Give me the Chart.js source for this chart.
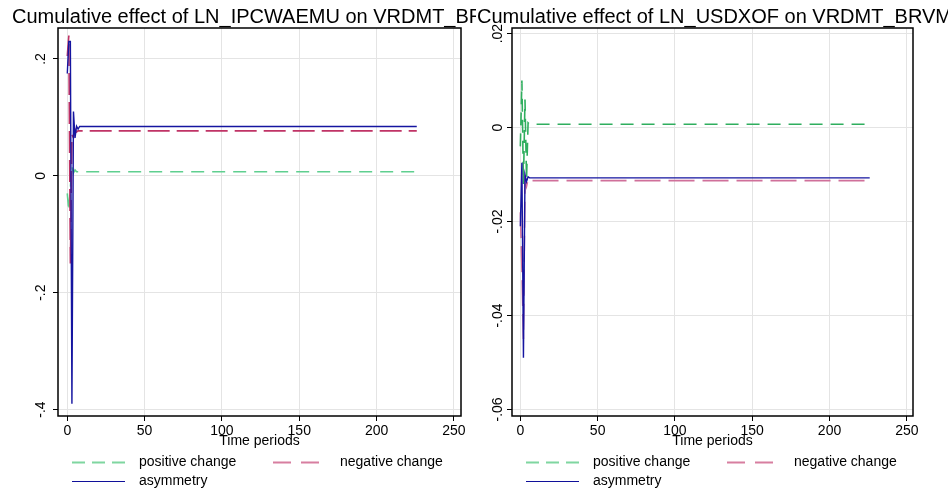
<!DOCTYPE html>
<html><head><meta charset="utf-8">
<script src="https://cdn.jsdelivr.net/npm/chart.js@4.4.0/dist/chart.umd.min.js"></script>
<style>
html,body{margin:0;padding:0;background:#fff;}
#wrap{position:relative;width:948px;height:491px;overflow:hidden;background:#fff;}
#c1wrap{position:absolute;left:0;top:0;width:476px;height:491px;}
#c2wrap{position:absolute;left:476px;top:0;width:472px;height:491px;background:#fff;}
canvas{display:block;}
</style></head><body>
<div id="wrap"><div id="c1wrap"><canvas id="c1" width="476" height="491"></canvas></div><div id="c2wrap"><canvas id="c2" width="472" height="491"></canvas></div></div>
<script>
// ---- data ----
const periods = [0, 1, 2, 3, 4, 5, 6, 7, 8, 226];
const xTicks = [0, 50, 100, 150, 200, 250];
const seriesLabels = ['positive change', 'negative change', 'asymmetry'];

// Panel 1: LN_IPCWAEMU
const pos1  = [-0.030, -0.060, -0.020, 0.016, 0.005, 0.010, 0.007, 0.007, 0.007, 0.007];
const neg1  = [0.205, 0.240, -0.150, 0.070, 0.065, 0.080, 0.075, 0.077, 0.077, 0.077];
const asym1 = [0.175, 0.230, 0.230, -0.390, 0.110, 0.065, 0.085, 0.080, 0.0845, 0.0845];
const yTicks1 = [0.2, 0, -0.2, -0.4];
const yLabels1 = ['.2', '0', '-.2', '-.4'];

// Panel 2: LN_USDXOF
const pos2  = [-0.004, 0.010, -0.012, 0.006, -0.011, 0.001, 0.0007, 0.0007, 0.0007, 0.0007];
const neg2  = [-0.018, -0.030, -0.045, -0.011, -0.0125, -0.011, -0.0113, -0.0113, -0.0113, -0.0113];
const asym2 = [-0.021, -0.0075, -0.049, -0.010, -0.0115, -0.0105, -0.0107, -0.0107, -0.0107, -0.0107];
const yTicks2 = [0.02, 0, -0.02, -0.04, -0.06];
const yLabels2 = ['.02', '0', '-.02', '-.04', '-.06'];

const FONT = '"Liberation Sans", Arial, Helvetica, sans-serif';

function pts(vals){ return periods.map((p,i)=>({x:p, y:vals[i]})); }

function makeChart(id, cfg){
  const plugin = {
    id:'stataDeco',
    afterDraw(chart){
      const ctx = chart.ctx, ca = chart.chartArea, ys = chart.scales.y;
      ctx.save();
      ctx.strokeStyle = '#000'; ctx.lineWidth = 1.5; ctx.setLineDash([]);
      ctx.strokeRect(ca.left, ca.top, ca.right-ca.left, ca.bottom-ca.top);
      ctx.fillStyle = '#000';
      ctx.font = '14px ' + FONT;
      ctx.textAlign = 'center'; ctx.textBaseline = 'middle';
      cfg.yTicks.forEach((v,i)=>{
        const y = ys.getPixelForValue(v);
        ctx.save(); ctx.translate(ca.left - cfg.yLabelOffset, y); ctx.rotate(-Math.PI/2);
        ctx.fillText(cfg.yLabels[i], 0, 0); ctx.restore();
      });
      // title
      ctx.font = '20px ' + FONT; ctx.textAlign = 'left'; ctx.textBaseline = 'alphabetic';
      ctx.fillText(cfg.title, cfg.titleX, 23);
      // x axis title
      ctx.font = '14px ' + FONT; ctx.textAlign = 'center';
      ctx.fillText('Time periods', (ca.left+ca.right)/2, 445);
      // legend
      const items = [
        {ds:2, x:14, y:462.5, label:seriesLabels[0]},
        {ds:1, x:215, y:462.5, label:seriesLabels[1]},
        {ds:0, x:14, y:481.5, label:seriesLabels[2]}
      ];
      items.forEach(it=>{
        const d = chart.data.datasets[it.ds];
        ctx.save();
        ctx.strokeStyle = d.legendColor; ctx.lineWidth = d.legendWidth;
        ctx.setLineDash(d.legendDash || []);
        ctx.beginPath(); ctx.moveTo(ca.left+it.x, it.y); ctx.lineTo(ca.left+it.x+53, it.y); ctx.stroke();
        ctx.restore();
        ctx.fillStyle = '#000'; ctx.textAlign='left'; ctx.textBaseline='middle';
        ctx.font = '14px ' + FONT;
        ctx.fillText(it.label, ca.left+it.x+67, it.y);
      });
      ctx.restore();
    }
  };
  return new Chart(document.getElementById(id), {
    type:'line',
    data:{datasets:[
      {label:seriesLabels[2], data:pts(cfg.asym), borderColor:cfg.blue, borderWidth:1.4, pointRadius:0, tension:0, order:0, legendColor:'#10109a', legendWidth:1},
      {label:seriesLabels[1], data:pts(cfg.neg), borderColor:cfg.red, borderWidth:1.6, borderDash:cfg.redDash, pointRadius:0, tension:0, order:1, legendColor:'#d77ea0', legendWidth:2, legendDash:[18,10]},
      {label:seriesLabels[0], data:pts(cfg.pos), borderColor:cfg.green, borderWidth:1.6, borderDash:[13,8], pointRadius:0, tension:0, order:2, legendColor:'#7fd6a0', legendWidth:2, legendDash:[13,7]}
    ]},
    options:{
      animation:false, responsive:false, devicePixelRatio:1,
      layout:{padding:{left:cfg.padLeft, right:cfg.padRight, top:28, bottom:45}},
      plugins:{legend:{display:false}, title:{display:false}, tooltip:{enabled:false}},
      scales:{
        x:{type:'linear', min:cfg.xMin, max:cfg.xMax,
           afterBuildTicks:s=>{ s.ticks = xTicks.map(v=>({value:v})); },
           afterFit:s=>{ s.height = 30; },
           ticks:{color:'#000', font:{family:FONT, size:14}, padding:2, maxRotation:0, minRotation:0, autoSkip:false, callback:v=>String(v)},
           grid:{color:'#e4e4e4', tickColor:'#000', tickLength:5, lineWidth:1},
           border:{display:false}},
        y:{type:'linear', min:cfg.yMin, max:cfg.yMax,
           afterBuildTicks:s=>{ s.ticks = cfg.yTicks.map(v=>({value:v})); },
           afterFit:s=>{ s.width = 30; },
           ticks:{display:false},
           grid:{color:'#e4e4e4', tickColor:'#000', tickLength:5, lineWidth:1},
           border:{display:false}}
      }
    },
    plugins:[plugin]
  });
}

makeChart('c1', {
  pos:pos1, neg:neg1, asym:asym1, yTicks:yTicks1, yLabels:yLabels1,
  title:'Cumulative effect of LN_IPCWAEMU on VRDMT_BRVM', titleX:12,
  xMin:-6, xMax:254.6, yMin:-0.411, yMax:0.253, padLeft:28, padRight:15, yLabelOffset:17,
  blue:'#1515a0', red:'#c03366', green:'#5fcf8f', redDash:[22,7]
});
makeChart('c2', {
  pos:pos2, neg:neg2, asym:asym2, yTicks:yTicks2, yLabels:yLabels2,
  title:'Cumulative effect of LN_USDXOF on VRDMT_BRVM', titleX:1,
  xMin:-5.4, xMax:254.0, yMin:-0.0614, yMax:0.0212, padLeft:6, padRight:35, yLabelOffset:14,
  blue:'#1515a0', red:'#d0709a', green:'#2fae5e', redDash:[26,8]
});
</script>
</body></html>
